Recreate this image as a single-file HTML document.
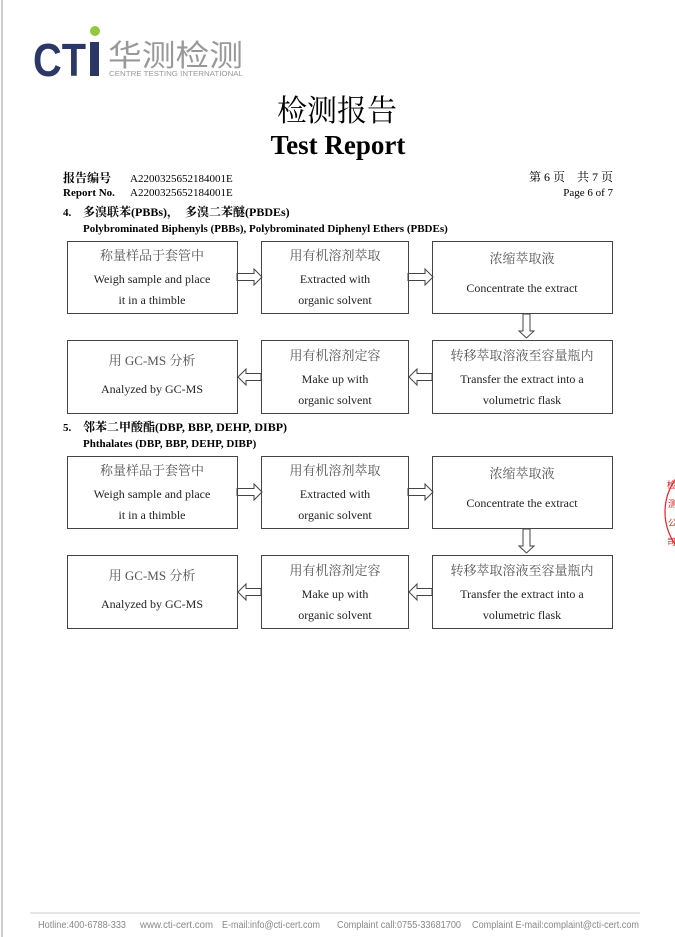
<!DOCTYPE html>
<html><head><meta charset="utf-8"><style>
html,body{margin:0;padding:0;background:#fff;width:675px;height:937px;overflow:hidden}
svg{display:block}
.s{font-family:"Liberation Serif","Noto Serif CJK SC",serif}
.h{font-family:"Liberation Sans","Noto Sans CJK SC",sans-serif}
</style></head><body>
<svg width="675" height="937" viewBox="0 0 675 937" xmlns="http://www.w3.org/2000/svg">
<line x1="2" y1="0" x2="2" y2="937" stroke="#bbb" stroke-width="1.5"/>
<!-- logo -->
<text x="33" y="76" class="h" font-size="46" font-weight="bold" fill="#2b3766" textLength="53" lengthAdjust="spacingAndGlyphs">CT</text>
<rect x="90" y="42" width="9" height="34" fill="#2b3766"/>
<circle cx="95" cy="31" r="5" fill="#93c83e"/>
<text x="108" y="66" class="h" font-size="30" fill="#999" textLength="135" lengthAdjust="spacingAndGlyphs">华测检测</text>
<text x="109" y="76" class="h" font-size="7" fill="#999" textLength="134" lengthAdjust="spacingAndGlyphs">CENTRE TESTING INTERNATIONAL</text>
<!-- title -->
<text x="337" y="121" class="s" font-size="30" text-anchor="middle" fill="#000">检测报告</text>
<text x="338" y="154" class="s" font-size="27" font-weight="bold" text-anchor="middle" fill="#000">Test Report</text>
<text x="63" y="182" class="s" font-size="12" font-weight="bold">报告编号</text>
<text x="130" y="182" class="s" font-size="11">A2200325652184001E</text>
<text x="63" y="196" class="s" font-size="11" font-weight="bold">Report No.</text>
<text x="130" y="196" class="s" font-size="11">A2200325652184001E</text>
<text x="613" y="181" class="s" font-size="12" text-anchor="end">第 6 页　共 7 页</text>
<text x="613" y="196" class="s" font-size="11" text-anchor="end">Page 6 of 7</text>
<text x="63" y="216" class="s" font-size="11" font-weight="bold">4.</text>
<text x="83" y="216" class="s" font-size="12" font-weight="bold">多溴联苯(PBBs)，　多溴二苯醚(PBDEs)</text>
<text x="83" y="232" class="s" font-size="11" font-weight="bold">Polybrominated Biphenyls (PBBs), Polybrominated Diphenyl Ethers (PBDEs)</text>
<text x="63" y="431" class="s" font-size="11" font-weight="bold">5.</text>
<text x="83" y="431" class="s" font-size="12" font-weight="bold">邻苯二甲酸酯(DBP, BBP, DEHP, DIBP)</text>
<text x="83" y="447" class="s" font-size="11" font-weight="bold">Phthalates (DBP, BBP, DEHP, DIBP)</text>

<defs>
<g id="flow" class="s" fill="#222">
<g fill="none" stroke="#444" stroke-width="1">
<rect x="67.5" y="0.5" width="170" height="72"/>
<rect x="261.5" y="0.5" width="147" height="72"/>
<rect x="432.5" y="0.5" width="180" height="72"/>
<rect x="67.5" y="99.5" width="170" height="73"/>
<rect x="261.5" y="99.5" width="147" height="73"/>
<rect x="432.5" y="99.5" width="180" height="73"/>
<polygon points="237,32.5 254,32.5 254,28 262,36 254,44 254,39.5 237,39.5"/>
<polygon points="408,32.5 425,32.5 425,28 433,36 425,44 425,39.5 408,39.5"/>
<polygon points="523,73 530,73 530,90 534,90 526.5,97 519,90 523,90"/>
<polygon points="261,132.5 246,132.5 246,128 238,136 246,144 246,139.5 261,139.5"/>
<polygon points="432,132.5 417,132.5 417,128 409,136 417,144 417,139.5 432,139.5"/>
</g>
<g font-size="12" text-anchor="middle">
<text x="152" y="19" font-size="13" fill="#555">称量样品于套管中</text>
<text x="152" y="42">Weigh sample and place</text>
<text x="152" y="63">it in a thimble</text>
<text x="335" y="19" font-size="13" fill="#555">用有机溶剂萃取</text>
<text x="335" y="42">Extracted with</text>
<text x="335" y="63">organic solvent</text>
<text x="522" y="22" font-size="13" fill="#555">浓缩萃取液</text>
<text x="522" y="51">Concentrate the extract</text>
<text x="152" y="124" font-size="13" fill="#555">用 GC-MS 分析</text>
<text x="152" y="152">Analyzed by GC-MS</text>
<text x="335" y="119" font-size="13" fill="#555">用有机溶剂定容</text>
<text x="335" y="142">Make up with</text>
<text x="335" y="163">organic solvent</text>
<text x="522" y="119" font-size="13" fill="#555">转移萃取溶液至容量瓶内</text>
<text x="522" y="142">Transfer the extract into a</text>
<text x="522" y="163">volumetric flask</text>
</g>
</g>
</defs>
<use href="#flow" x="0" y="241"/>
<use href="#flow" x="0" y="456"/>

<!-- stamp -->
<circle cx="722" cy="512" r="57" fill="none" stroke="#e0202a" stroke-width="1.2"/>
<g fill="#e0202a" font-size="9" class="h">
<text x="667" y="488">检</text><text x="668" y="507">测</text><text x="668" y="526">公</text><text x="667" y="545">司</text>
</g>
<!-- footer -->
<line x1="30" y1="913" x2="640" y2="913" stroke="#ccc" stroke-width="1"/>
<g class="h" font-size="10" fill="#888">
<text x="38" y="928" textLength="88" lengthAdjust="spacingAndGlyphs">Hotline:400-6788-333</text>
<text x="140" y="928" textLength="73" lengthAdjust="spacingAndGlyphs">www.cti-cert.com</text>
<text x="222" y="928" textLength="98" lengthAdjust="spacingAndGlyphs">E-mail:info@cti-cert.com</text>
<text x="337" y="928" textLength="124" lengthAdjust="spacingAndGlyphs">Complaint call:0755-33681700</text>
<text x="472" y="928" textLength="167" lengthAdjust="spacingAndGlyphs">Complaint E-mail:complaint@cti-cert.com</text>
</g>
</svg>
</body></html>
